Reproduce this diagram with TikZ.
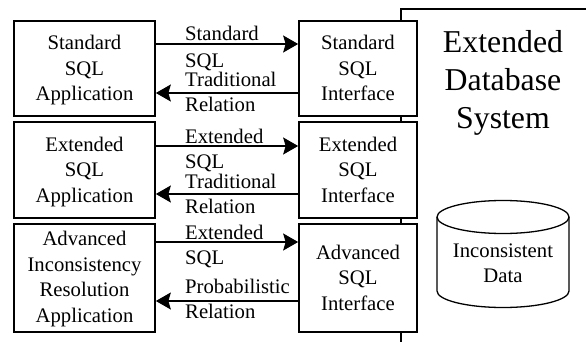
\documentclass[tikz,border=0pt]{standalone}
\usepackage{fontspec}
\setmainfont{Liberation Serif}
\usetikzlibrary{arrows.meta}

\tikzset{
    toph/.store in=\toph,toph=69pt,
    boxtext/.style={font=\fontsize{20.7}{25.4}\selectfont},
    sidebox/.style={draw,line width=1.7pt,fill=white,align=center,boxtext,inner sep=0pt,minimum height=#1,
        execute at begin node=\rule{0pt}{\toph},execute at end node=\rule[-4.5pt]{0pt}{0pt}},
    appbox/.style={sidebox=#1,minimum width=141},
    intbox/.style={sidebox=#1,minimum width=118},
    flowlabel/.style={boxtext,anchor=base west,inner sep=0pt},
    flow/.style={line width=1.3pt,-{Stealth[length=15pt,width=17pt,inset=2.5pt]}}
}

\begin{document}
\begin{tikzpicture}[x=1pt,y=-1pt]
\useasboundingbox (0,0) rectangle (586,342);

%line info
\def\appx{84.5}
\def\intx{358}
\def\lblx{185}

%system outline
\coordinate (ST) at (401,9);
\coordinate (SB) at (401,342);
\coordinate (SR) at (586,9);
\draw[line width=1.3pt] (SB) -- (ST) -- (SR);

%boxes
\node[appbox=95]  (appA) at (\appx,68.5)  {Standard\\SQL\\Application};
\node[appbox=96]  (appB) at (\appx,170)   {Extended\\SQL\\Application};
\node[appbox=108,toph=92.5pt] (appC) at (\appx,278) {Advanced\\Inconsistency\\Resolution\\Application};
\node[intbox=95]  (intA) at (\intx,68.5)  {Standard\\SQL\\Interface};
\node[intbox=96]  (intB) at (\intx,170)   {Extended\\SQL\\Interface};
\node[intbox=108] (intC) at (\intx,278)   {Advanced\\SQL\\Interface};

%draw arrows
\foreach \n/\f/\b in {A/44/93,B/146/194,C/242/301}{
    \draw[flow] (app\n.east |- 0,\f) -- (int\n.west |- 0,\f);
    \draw[flow] (int\n.west |- 0,\b) -- (app\n.east |- 0,\b);
}

%labels
\foreach \y/\t [count=\i] in {41/Standard,68/SQL,87/Traditional,112/Relation,
                              143/Extended,168/SQL,188/Traditional,213/Relation,
                              239/Extended,264/SQL,293/Probabilistic,318/Relation}{
    \node[flowlabel] (lbl\i) at (\lblx,\y) {\t};
}

%title
\node[align=center,inner sep=0pt,font=\fontsize{31.8}{38}\selectfont] (title) at (503,82.5) {Extended\\Database\\System};

%cylinder
\coordinate (CL) at (437,217);
\coordinate (CR) at (569,217);
\coordinate (DL) at (437,291);
\coordinate (DR) at (569,291);
\draw[line width=1.3pt] (CL) arc[start angle=180,end angle=540,x radius=66,y radius=16.5];
\draw[line width=1.3pt] (CL) -- (DL) arc[start angle=180,end angle=0,x radius=66,y radius=16.5] -- (CR);
\node[boxtext,align=center,inner sep=0pt] (data) at (503,263) {Inconsistent\\Data};

\end{tikzpicture}
\end{document}
